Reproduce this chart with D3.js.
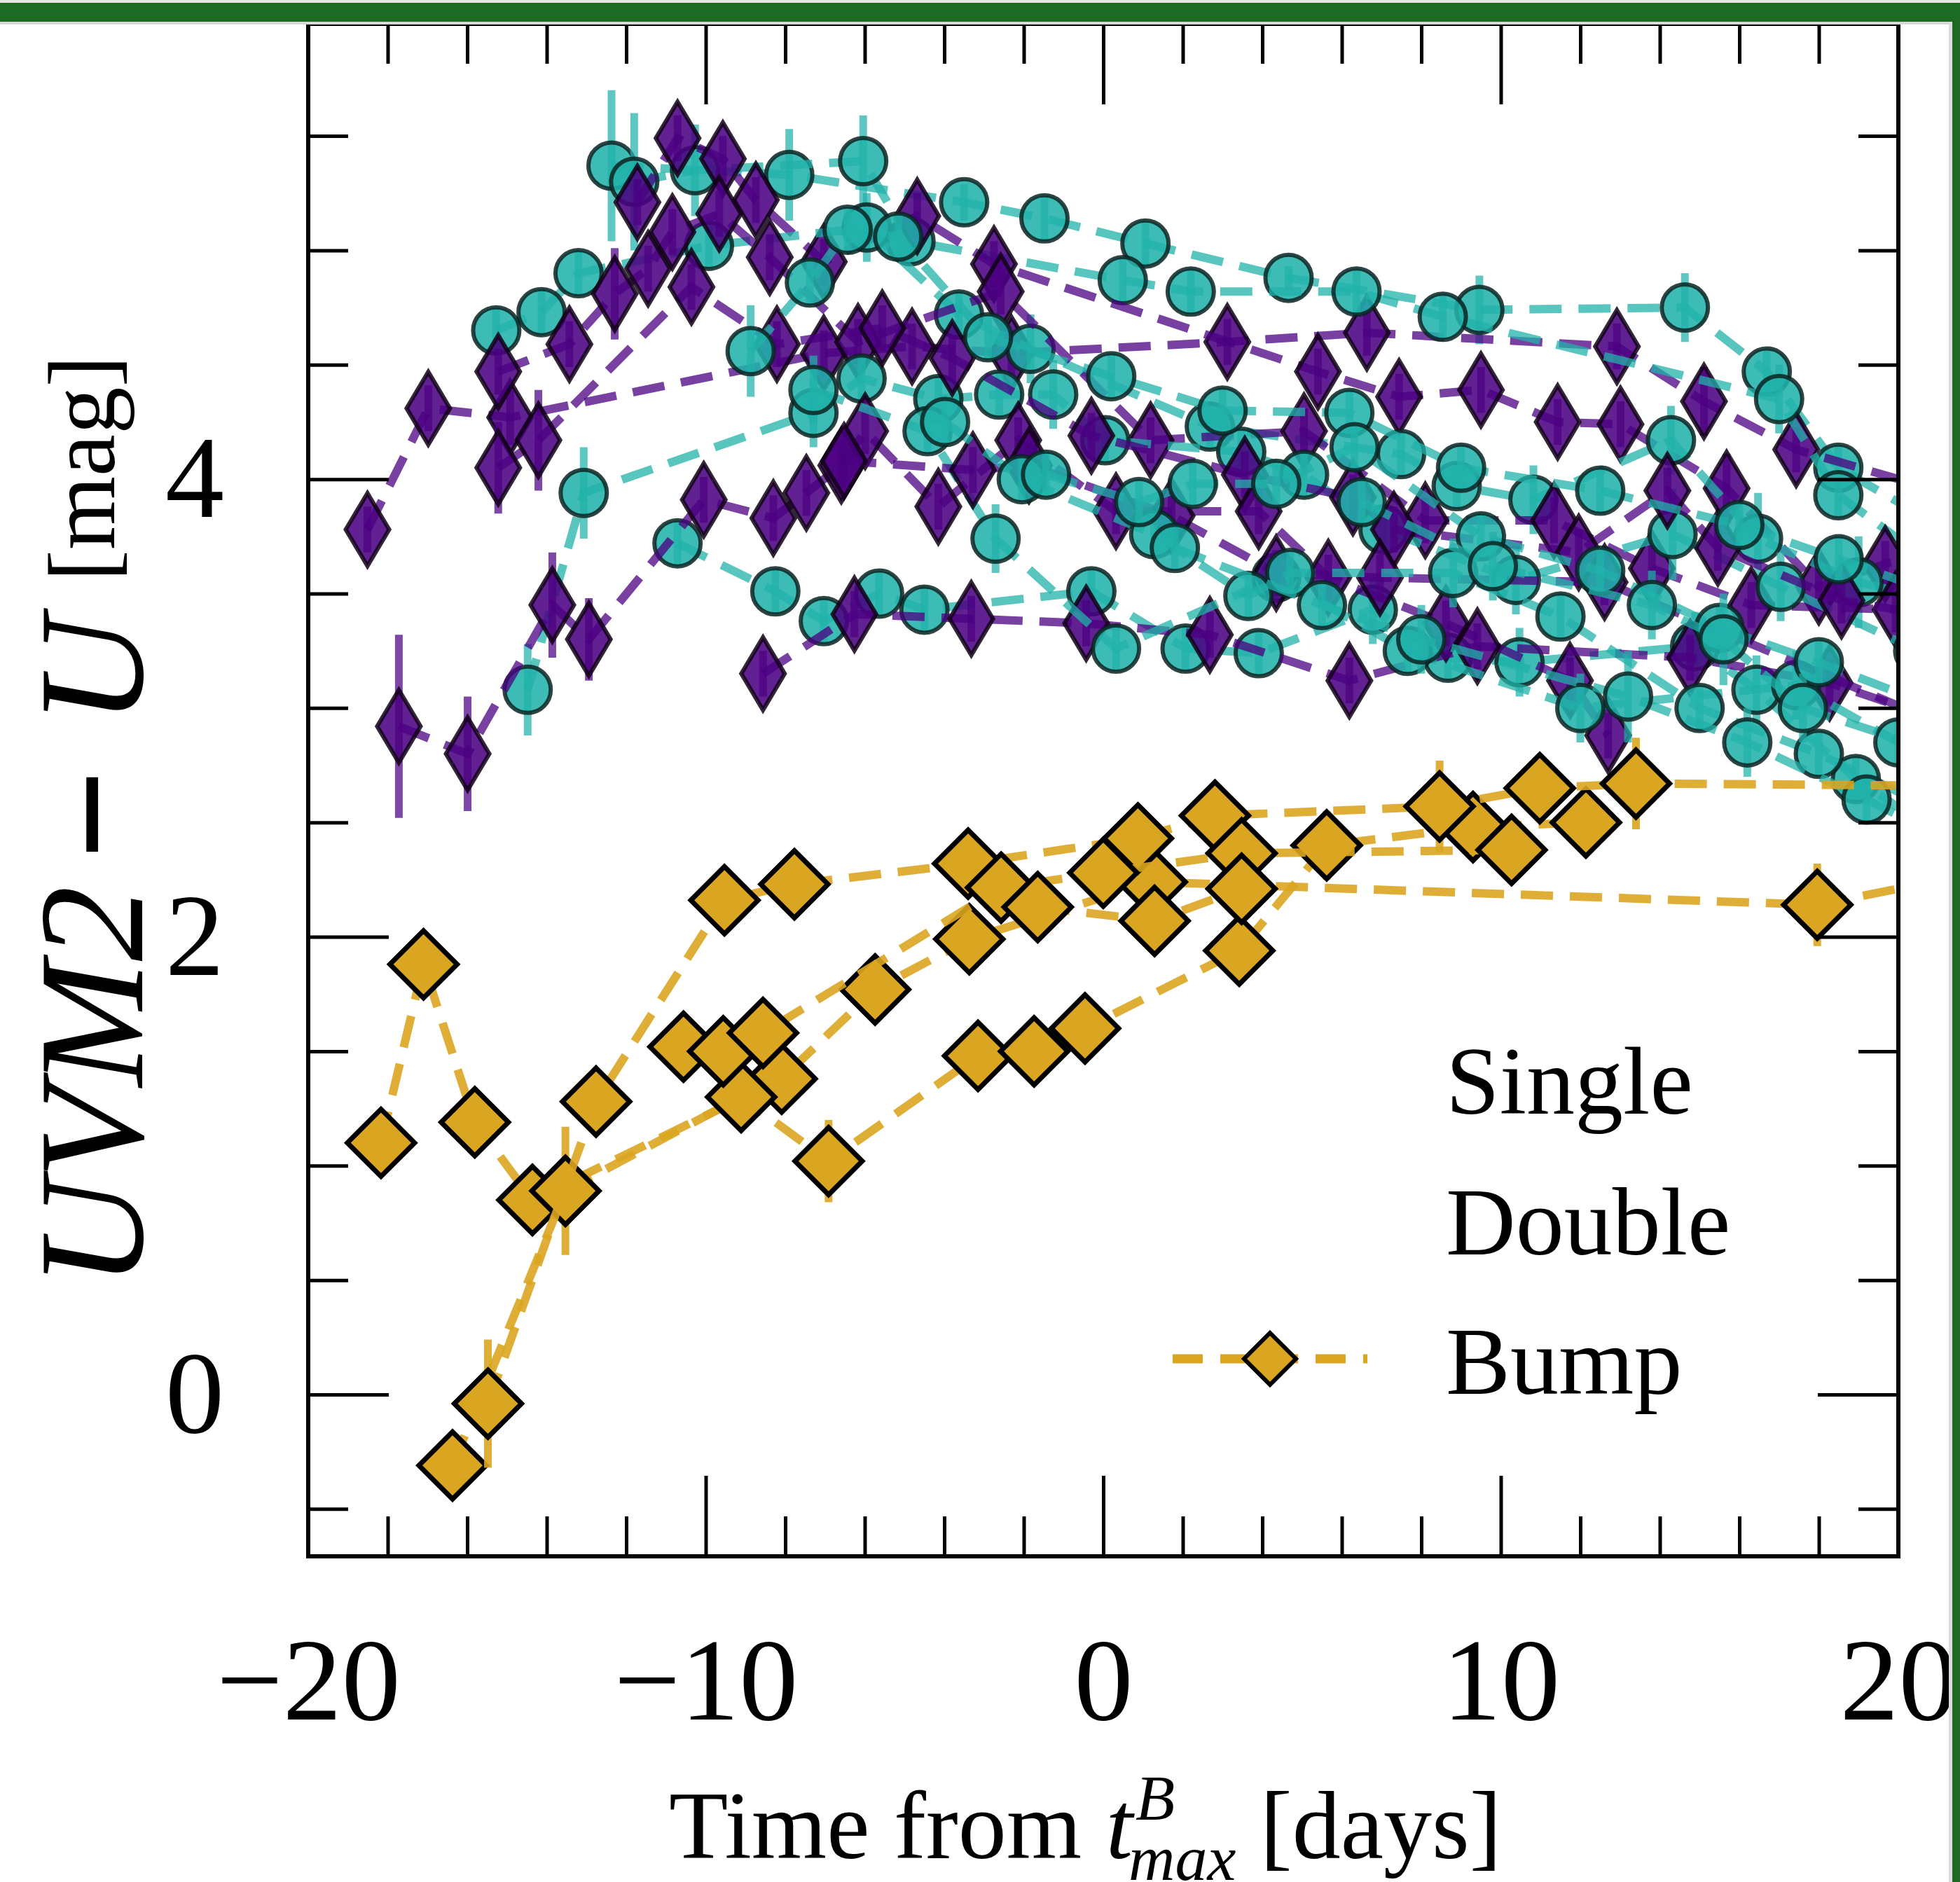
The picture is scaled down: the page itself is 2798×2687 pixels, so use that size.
<!DOCTYPE html>
<html>
<head>
    <meta charset="utf-8">
    <title>UVM2 - U colour curves</title>
    <script src="https://d3js.org/d3.v7.min.js"></script>
    <style>
        body { margin: 0; background: #fff; }
        svg { display: block; }
        text { font-family: "Liberation Serif", "Times New Roman", serif; fill: #000; }
    </style>
</head>
<body>
    <svg width="2798" height="2687" id="chart"></svg>

    <script>
        // each curve: [days from B max, UVM2-U colour, error]
        const singleCurves = [
            [[-12.37,5.37,.33],[-7.9,5.33,.2],[-3.5,5.21,.08],[-1.48,5.14,.1],[1.06,5.03,.1],[4.66,4.88,.05],[9.46,4.74,.15],[14.63,4.75,.15],[16.69,4.47,.1],[18.49,4.05,.1],[21.5,3.75,.1]],
            [[-11.8,5.30,.3],[-10.27,5.35,.2],[-6.04,5.39,.2],[-4.85,5.04,.1],[0.49,4.87,.1],[2.2,4.82,.1],[6.37,4.82,.1],[8.54,4.71,.1],[17.0,4.35,.15],[18.49,3.93,.1],[21.5,3.55,.1]],
            [[-15.27,4.65,.1],[-14.13,4.73,.1],[-13.2,4.90,.1],[-9.92,5.02,.1],[-5.95,5.10,.15],[-3.63,4.72,.1],[-1.83,4.57,.15],[2.68,4.23,.1],[7.49,4.11,.1],[8.89,3.97,.1],[10.82,3.91,.15],[14.28,4.17,.15],[16.47,3.74,.2],[19.0,3.55,.2],[21.5,3.45,.1]],
            [[-14.48,3.08,.2],[-13.07,3.94,.2],[-7.29,4.29,.15],[-6.08,4.44,.1],[-4.15,4.35,.1],[-2.62,4.37,.1],[-1.26,4.37,.15],[0.05,4.17,.1],[3.47,4.12,.1],[5.05,4.02,.1],[7.05,3.78,.1],[10.38,3.56,.15],[14.32,3.76,.2],[17.04,3.53,.15],[20.5,3.25,.1]],
            [[-10.71,3.72,.1],[-8.25,3.51,.1],[-7.03,3.38,.1],[-5.64,3.50,.1],[-4.5,3.43,.1],[-0.3,3.51,.1],[2.07,3.26,.1],[3.91,3.24,.1],[6.78,3.43,.15],[8.67,3.22,.1],[10.47,3.20,.15],[14.89,3.27,.15],[16.43,3.08,.15],[18.93,2.69,.1],[21,2.45,.1]],
            [[-8.87,4.56,.2],[-7.38,4.86,.1],[-6.43,5.09,.1],[-5.16,5.06,.1],[-2.9,4.62,.1],[0.2,4.45,.1],[3.0,4.3,.1],[6.19,4.29,.1],[9.0,4.05,.1],[12.5,3.95,.1],[16.0,3.8,.1],[18.5,3.65,.1],[21,3.5,.1]],
            [[-7.29,4.39,.15],[-4.42,4.21,.1],[-2.71,3.74,.15],[0.32,3.26,.1],[4.35,3.57,.1],[7.66,3.25,.1],[12.0,3.0,.15],[17.43,3.10,.15],[20,2.85,.1],[21.5,2.7,.1]],
            [[-3.98,4.25,.1],[-2.05,4.0,.1],[1.28,3.76,.1],[3.65,3.49,.1],[4.7,3.59,.1],[8.8,3.59,.15],[11.5,3.4,.1],[15,3.0,.1],[18,2.8,.1],[21,2.55,.1]],
            [[-1.44,4.02,.1],[0.9,3.9,.1],[2.25,3.98,.1],[4.35,3.98,.1],[6.32,4.14,.1],[9.5,3.75,.1],[12.5,3.6,.1],[15.5,3.35,.1],[18,3.2,.1],[21,3.0,.1]],
            [[1.8,3.7,.1],[5.5,3.45,.1],[8.0,3.3,.15],[13.2,3.05,.2],[16.2,2.85,.15],[19.2,2.6,.1],[21.5,2.4,.1]],
            [[6.5,3.9,.1],[9.8,3.62,.15],[13.8,3.45,.15],[15.6,3.3,.2],[17.6,3.0,.15],[21.5,2.78,.1]]
        ];

        const doubleCurves = [
            [[-18.51,3.78,.1],[-16.98,4.31,.1],[-14.92,4.27,.12],[-7.03,4.55,.1],[-4.81,4.58,.1],[-2.31,4.55,.1],[3.12,4.60,.1],[6.63,4.64,.1],[12.92,4.58,.1],[15.11,4.34,.15],[17.43,4.13,.1],[21,3.95,.1]],
            [[-11.72,5.21,.1],[-10.71,5.49,.1],[-9.57,5.40,.1],[-8.74,5.22,.1],[-7.03,4.95,.1],[-4.68,5.15,.1],[-2.75,4.94,.1],[5.40,4.47,.1],[7.44,4.36,.1],[9.5,4.39,.1],[11.43,4.25,.1],[13.01,4.24,.1],[15.68,3.96,.15],[18.0,3.53,.1],[19.67,3.63,.1],[21.5,3.7,.1]],
            [[-15.22,4.47,.1],[-13.43,4.59,.1],[-12.29,4.81,.2],[-11.45,4.92,.1],[-10.84,5.08,.1],[-9.66,5.16,.1],[-8.39,4.97,.1],[-6.17,4.60,.1],[-2.58,4.82,.1],[1.19,4.17,.1],[5.05,4.21,.1],[8.1,3.82,.1],[11.34,3.82,.1],[13.8,3.61,.1],[16.3,3.45,.1],[19.93,3.43,.1],[22,3.3,.1]],
            [[-15.22,4.05,.2],[-14.21,4.17,.22],[-10.36,4.84,.1],[-8.21,4.59,.1],[-5.56,4.66,.1],[-3.8,4.53,.1],[-0.30,4.19,.1],[3.56,4.02,.1],[6.28,3.92,.1],[7.31,3.78,.1],[11.96,3.68,.1],[14.19,3.95,.1],[15.46,3.70,.1],[18.57,3.47,.1],[21,3.4,.1]],
            [[-17.72,2.92,.4],[-15.99,2.80,.25],[-13.86,3.45,.23],[-12.94,3.30,.18],[-10.05,3.91,.1],[-8.30,3.83,.1],[-7.47,3.94,.1],[-6.59,4.06,.1],[-5.99,4.21,.1],[-4.15,3.88,.1],[-2.14,4.17,.1],[0.32,3.86,.1],[3.91,3.86,.1],[5.66,3.57,.1],[8.62,3.37,.1],[11.74,3.12,.1],[12.7,2.88,.1]],
            [[-8.56,3.15,.1],[-6.26,3.41,.1],[-3.32,3.39,.1],[-0.43,3.37,.1],[2.68,3.32,.1],[6.19,3.12,.1],[9.41,3.27,.1],[14.76,3.22,.1],[18.27,3.11,.1],[21,2.95,.1]],
            [[-6.52,4.08,.1],[-3.28,4.04,.1],[-1.87,4.06,.1],[1.72,3.84,.1],[4.35,3.59,.1],[6.96,3.57,.1],[12.61,3.55,.1],[21.5,2.9,.1]]
        ];

        const bumpCurves = [
            [[-18.17,1.10,.05],[-17.10,1.88,.08],[-15.81,1.19,.06],[-14.36,0.85,.08],[-8.09,1.38,.06],[-5.74,1.77,.06],[-3.37,1.99,.06],[1.22,2.24,.06],[17.96,2.14,.18],[22,2.28,.1]],
            [[-16.37,-0.31,.06],[-13.53,0.89,.28],[-9.11,1.30,.06],[-6.91,1.02,.18],[-3.15,1.48,.06],[-1.74,1.50,.06],[-0.46,1.60,.06],[3.42,1.94,.06],[5.62,2.40,.15],[9.30,2.48,.1],[12.14,2.50,.06]],
            [[-15.48,-0.04,.28],[-12.76,1.28,.08],[-9.53,2.16,.06],[-7.77,2.23,.06],[-3.40,2.32,.06],[0.87,2.43,.06],[2.81,2.53,.06],[8.46,2.57,.2],[10.98,2.65,.06],[13.4,2.67,.2],[22,2.66,.06]],
            [[-10.56,1.52,.06],[-9.56,1.50,.06],[-8.56,1.58,.06],[-2.57,2.215,.06],[0.0,2.28,.06],[3.48,2.365,.06],[10.27,2.38,.06]],
            [[-1.65,2.13,.06],[1.29,2.07,.06],[3.48,2.21,.06]]
        ];

        const xMajor = [-20, -10, 0, 10, 20];
        const xMinor = [-18, -16, -14, -12, -8, -6, -4, -2, 2, 4, 6, 8, 12, 14, 16, 18];
        const yMajor = [0, 2, 4];
        const yMinor = [-0.5, 0.5, 1, 1.5, 2.5, 3, 3.5, 4.5, 5, 5.5];
        const legendLabels = ["Single", "Double", "Bump"];

        const svg = d3.select("#chart");
        const pLeft = 440, pRight = 2710, pTop = 34, pBottom = 2222;

        const x = d3.scaleLinear().domain([-20, 20]).range([pLeft, pRight]);
        const y = d3.scaleLinear().domain([-0.707, 5.99]).range([pBottom, pTop]);

        const styles = {
            single: { color: "#20b2aa", edge: "#0b2423" },
            double: { color: "#4b0082", edge: "#120018" },
            bump:   { color: "#daa520", edge: "#000000" }
        };

        svg.append("defs").append("clipPath").attr("id", "plot-clip")
            .append("rect").attr("x", pLeft).attr("y", pTop)
            .attr("width", pRight - pLeft).attr("height", pBottom - pTop);

        const plot = svg.append("g").attr("clip-path", "url(#plot-clip)");
        const line = d3.line().x(d => x(d[0])).y(d => y(d[1]));

        function addMarker(sel, kind, st) {
            if (kind === "single") {
                sel.append("circle").attr("r", 33);
            } else if (kind === "double") {
                sel.append("path").attr("d", "M0,-52L31,0L0,52L-31,0Z");
            } else {
                sel.append("path").attr("d", "M0,-48L48,0L0,48L-48,0Z");
            }
            sel.selectAll("circle,path")
                .attr("fill", st.color)
                .attr("fill-opacity", kind === "bump" ? 1 : 0.87)
                .attr("stroke", st.edge)
                .attr("stroke-opacity", kind === "bump" ? 1 : 0.85)
                .attr("stroke-width", kind === "bump" ? 7 : 6);
        }

        function drawCurve(curve, kind) {
            const st = styles[kind];
            const g = plot.append("g").attr("class", "curve " + kind);

            // error bars
            g.selectAll("line.err").data(curve).enter().append("line")
                .attr("class", "err")
                .attr("x1", d => x(d[0])).attr("x2", d => x(d[0]))
                .attr("y1", d => y(d[1] - d[2])).attr("y2", d => y(d[1] + d[2]))
                .attr("stroke", st.color)
                .attr("stroke-opacity", kind === "bump" ? 0.9 : 0.72)
                .attr("stroke-width", 11);

            g.append("path").datum(curve)
                .attr("d", line)
                .attr("fill", "none")
                .attr("stroke", st.color)
                .attr("stroke-opacity", kind === "bump" ? 0.9 : 0.75)
                .attr("stroke-width", 12)
                .attr("stroke-dasharray", "46,24");

            const m = g.selectAll("g.mk").data(curve).enter().append("g")
                .attr("class", "mk")
                .attr("transform", d => `translate(${x(d[0])},${y(d[1])})`);
            addMarker(m, kind, st);
        }

        const nCurves = Math.max(singleCurves.length, doubleCurves.length);
        for (let i = 0; i < nCurves; i++) {
            if (singleCurves[i]) drawCurve(singleCurves[i], "single");
            if (doubleCurves[i]) drawCurve(doubleCurves[i], "double");
        }
        bumpCurves.forEach(c => drawCurve(c, "bump"));

        // axes, ticks pointing inwards on all four sides
        function styleAxis(g) {
            g.select(".domain").remove();
            g.selectAll(".tick line").attr("stroke", "#000").attr("stroke-width", 5);
            g.attr("font-family", "Liberation Serif, Times New Roman, serif").attr("font-size", 168);
            g.selectAll(".tick text").attr("fill", "#000");
        }

        svg.append("g").attr("transform", `translate(0,${pBottom})`)
            .call(d3.axisBottom(x).tickValues(xMajor).tickSize(-115).tickPadding(114).tickFormat(d3.format("d")))
            .call(styleAxis);
        svg.append("g").attr("transform", `translate(0,${pBottom})`)
            .call(d3.axisBottom(x).tickValues(xMinor).tickSize(-57).tickFormat(""))
            .call(styleAxis);
        svg.append("g").attr("transform", `translate(0,${pTop})`)
            .call(d3.axisTop(x).tickValues(xMajor).tickSize(-115).tickFormat(""))
            .call(styleAxis);
        svg.append("g").attr("transform", `translate(0,${pTop})`)
            .call(d3.axisTop(x).tickValues(xMinor).tickSize(-57).tickFormat(""))
            .call(styleAxis);

        svg.append("g").attr("transform", `translate(${pLeft},0)`)
            .call(d3.axisLeft(y).tickValues(yMajor).tickSize(-115).tickPadding(120).tickFormat(d3.format("d")))
            .call(styleAxis);
        svg.append("g").attr("transform", `translate(${pLeft},0)`)
            .call(d3.axisLeft(y).tickValues(yMinor).tickSize(-57).tickFormat(""))
            .call(styleAxis);
        svg.append("g").attr("transform", `translate(${pRight},0)`)
            .call(d3.axisRight(y).tickValues(yMajor).tickSize(-115).tickFormat(""))
            .call(styleAxis);
        svg.append("g").attr("transform", `translate(${pRight},0)`)
            .call(d3.axisRight(y).tickValues(yMinor).tickSize(-57).tickFormat(""))
            .call(styleAxis);

        svg.append("rect")
            .attr("x", pLeft).attr("y", pTop)
            .attr("width", pRight - pLeft).attr("height", pBottom - pTop)
            .attr("fill", "none").attr("stroke", "#000").attr("stroke-width", 6);

        // y label
        svg.append("text").attr("transform", "translate(203,1838) rotate(-90)")
            .attr("font-style", "italic").attr("font-size", 215).text("UVM2");
        svg.append("text").attr("transform", "translate(203,1163) rotate(-90)")
            .attr("text-anchor", "middle").attr("font-size", 215)
            .attr("stroke", "#000").attr("stroke-width", 6).text("\u2212");
        svg.append("text").attr("transform", "translate(203,1035) rotate(-90)")
            .attr("font-style", "italic").attr("font-size", 215).text("U");
        svg.append("text").attr("transform", "translate(163,830) rotate(-90)")
            .attr("font-size", 135).text("[mag]");

        // x label with super/subscript
        const xl = svg.append("text").attr("x", 955).attr("y", 2653).attr("font-size", 138);
        xl.append("tspan").text("Time from ");
        xl.append("tspan").attr("font-style", "italic").text("t");
        const sup = xl.append("tspan").attr("font-style", "italic").attr("font-size", 92)
            .attr("dx", 4).attr("dy", -55).text("B");
        const supW = sup.node().getComputedTextLength();
        xl.append("tspan").attr("font-style", "italic").attr("font-size", 92)
            .attr("dx", -supW - 10).attr("dy", 86).text("max");
        xl.append("tspan").attr("dy", -31).text(" [days]");

        // legend
        const legendY = [1590, 1791, 1990];
        svg.selectAll("text.legend").data(legendLabels).enter().append("text")
            .attr("class", "legend")
            .attr("x", 2064).attr("y", (d, i) => legendY[i])
            .attr("font-size", 138).text(d => d);

        svg.append("line").attr("x1", 1674).attr("x2", 1952).attr("y1", 1940).attr("y2", 1940)
            .attr("stroke", styles.bump.color).attr("stroke-width", 13)
            .attr("stroke-dasharray", "43,25");
        svg.append("path").attr("transform", "translate(1813,1940)")
            .attr("d", "M0,-37L37,0L0,37L-37,0Z")
            .attr("fill", styles.bump.color).attr("stroke", "#000").attr("stroke-width", 6);

        // green frame of the page
        svg.append("rect").attr("x", 0).attr("y", 0).attr("width", 2798).attr("height", 4).attr("fill", "#e6e6e6");
        svg.append("rect").attr("x", 0).attr("y", 31).attr("width", 2787).attr("height", 4).attr("fill", "#d8d8d8");
        svg.append("rect").attr("x", 2782).attr("y", 31).attr("width", 5).attr("height", 2656).attr("fill", "#dcdcdc");
        svg.append("rect").attr("x", 0).attr("y", 4).attr("width", 2798).attr("height", 27).attr("fill", "#1d6a24");
        svg.append("rect").attr("x", 2787).attr("y", 4).attr("width", 11).attr("height", 2683).attr("fill", "#1d6a24");
    </script>
</body>
</html>
